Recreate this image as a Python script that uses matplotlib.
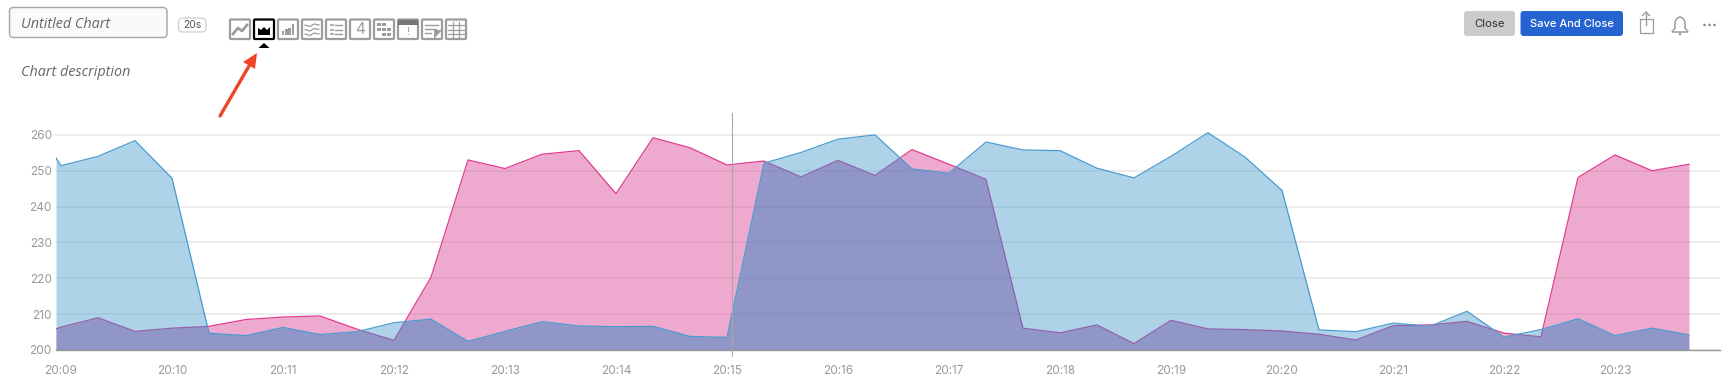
import numpy as np
import matplotlib
matplotlib.use("Agg")
import matplotlib.pyplot as plt
from matplotlib.patches import FancyBboxPatch, Polygon, Rectangle, Circle, PathPatch
from matplotlib.path import Path

W, H = 1728, 388

# sample times in seconds after 20:09:00 (first sample sits just before the label)
first_sample = -2.7
sample_step = 20
n_regular = 45

blue_values = [253.6, 251.4, 254.0, 258.4, 247.9, 204.7, 204.0, 206.3, 204.3, 205.1,
               207.6, 208.6, 202.4, 205.2, 207.9, 206.7, 206.5, 206.6, 203.8, 203.5,
               252.1, 255.1, 258.8, 260.0, 250.5, 249.3, 258.0, 255.8, 255.6, 250.7,
               248.0, 254.0, 260.6, 253.8, 244.5, 205.6, 205.1, 207.5, 206.6, 210.8,
               203.6, 205.7, 208.7, 204.0, 206.1, 204.2]
pink_values = [205.9, 206.4, 209.0, 205.2, 206.1, 206.6, 208.5, 209.2, 209.5, 205.8,
               202.7, 220.3, 253.0, 250.6, 254.6, 255.6, 243.6, 259.2, 256.4, 251.6,
               252.7, 248.3, 252.9, 248.7, 255.9, 251.8, 247.6, 206.1, 204.8, 207.0,
               201.8, 208.3, 205.9, 205.7, 205.3, 204.4, 202.8, 206.8, 207.0, 208.0,
               204.7, 203.7, 248.1, 254.4, 250.0, 251.8]

y_ticks = [200, 210, 220, 230, 240, 250, 260]
x_tick_labels = ["20:09", "20:10", "20:11", "20:12", "20:13", "20:14", "20:15", "20:16",
                 "20:17", "20:18", "20:19", "20:20", "20:21", "20:22", "20:23"]
cursor_time = 362.7

plt.rcParams["font.family"] = ["Inter", "DejaVu Sans"]
italic_font = ["Open Sans", "DejaVu Sans"]

times = np.concatenate([[first_sample], np.arange(n_regular) * sample_step])

fig = plt.figure(figsize=(W / 100, H / 100), dpi=100)

# chart area, pixel box 56..1720 by 113..350
ax = fig.add_axes([56 / W, 1 - 350 / H, (1720 - 56) / W, (350 - 113) / H])
ax.set_xlim((56 - 61) / 111 * 60, (1720 - 61) / 111 * 60)
ax.set_ylim(200, 266.1)
for s in ["top", "left", "right"]:
    ax.spines[s].set_visible(False)
ax.spines["bottom"].set_color("#999999")
ax.spines["bottom"].set_linewidth(1.0)
ax.set_yticks(y_ticks)
ax.set_xticks(np.arange(len(x_tick_labels)) * 60)
ax.set_xticklabels(x_tick_labels)
ax.tick_params(axis="both", length=0, labelsize=8.5, labelcolor="#999999")
ax.tick_params(axis="x", pad=10.5)
ax.tick_params(axis="y", pad=3)
ax.grid(axis="y", color="#e9e9e9", linewidth=1.2)
ax.set_axisbelow(True)

pink_fill = ax.fill_between(times, 200, pink_values, color="#d94494", alpha=0.45, linewidth=0, zorder=2)
ax.plot(times, pink_values, color="#e0398f", linewidth=0.9, zorder=2.1)
blue_fill = ax.fill_between(times, 200, blue_values, color="#4c9fd0", alpha=0.45, linewidth=0, zorder=2.2)

# overlap is darker than the two fills give on their own
overlap = ax.fill_between(times, 200, blue_values, color="#2641a7", alpha=0.15, linewidth=0, zorder=2.3)
pink_outline = Polygon(np.column_stack([np.r_[times[0], times, times[-1]],
                                        np.r_[200, pink_values, 200]]),
                       transform=ax.transData, fill=False, edgecolor="none")
ax.add_patch(pink_outline)
overlap.set_clip_path(pink_outline)

ax.plot(times, blue_values, color="#4a9bd0", linewidth=0.9, zorder=2.4)
ax.plot([cursor_time, cursor_time], [198.3, 266.1], color="#a8a8a8", linewidth=0.75, zorder=3, clip_on=False)

# app chrome around the chart, in pixels
ui = fig.add_axes([0, 0, 1, 1], zorder=5)
ui.set_xlim(0, W)
ui.set_ylim(H, 0)
ui.axis("off")
ui.patch.set_alpha(0)


def box(x0, y0, x1, y1, r=3, fc="none", ec="none", lw=1.0):
    ui.add_patch(FancyBboxPatch((x0 + r, y0 + r), x1 - x0 - 2 * r, y1 - y0 - 2 * r,
                                boxstyle=f"round,pad={r},rounding_size={r}",
                                fc=fc, ec=ec, lw=lw))


box(9.5, 7.5, 167, 37.5, r=4, fc="#fafafa", ec="#a5a5a5", lw=1.0)
ui.text(21, 25, "Untitled Chart", fontsize=10.4, style="italic", color="#666666", va="center", family=italic_font)
box(178.5, 18, 206, 32, r=4, fc="white", ec="#cfcfcf", lw=0.9)
ui.text(192, 25, "20s", fontsize=7.5, color="#555555", va="center", ha="center")
ui.text(21, 73, "Chart description", fontsize=10.4, style="italic", color="#666666", va="center", family=italic_font)

grey = "#9c9c9c"
icon_x = [230 + 24 * i for i in range(10)]
for i, x in enumerate(icon_x):
    active = i == 1
    box(x, 19.5, x + 20, 39, r=1, fc="white", ec="black" if active else grey, lw=1.6)
    if i == 0:
        ui.plot([x + 3, x + 8, x + 12, x + 17], [34, 28, 31, 25], color=grey, lw=2)
    elif i == 1:
        ui.add_patch(Polygon([(x + 4, 35), (x + 4, 28), (x + 7, 30), (x + 10, 27), (x + 13, 30),
                              (x + 16, 27), (x + 16, 35)], fc="black", ec="none"))
    elif i == 2:
        for j, h in enumerate([4, 6, 7, 11]):
            ui.add_patch(Rectangle((x + 4 + j * 3.2, 35 - h), 2.4, h, fc=grey, ec="none"))
    elif i == 3:
        for yy in (25, 29.5, 34):
            ui.plot([x + 3, x + 8, x + 12, x + 17], [yy, yy + 1.5, yy - 1, yy], color=grey, lw=0.9)
    elif i == 4:
        for yy in (25, 29.5, 34):
            ui.plot([x + 5, x + 6.5], [yy, yy], color=grey, lw=1.2)
            ui.plot([x + 8.5, x + 16], [yy, yy], color=grey, lw=1.0)
    elif i == 5:
        ui.text(x + 10, 29.5, "4", fontsize=11, color=grey, ha="center", va="center")
    elif i == 6:
        for cx, cy in [(3, 3), (8, 3), (3, 8), (8, 8), (13, 8), (8, 13), (13, 13)]:
            ui.add_patch(Rectangle((x + cx, 19.5 + cy), 3.6, 3.6, fc=grey, ec="none"))
    elif i == 7:
        ui.add_patch(Rectangle((x, 19.5), 20, 5, fc="#777777", ec="none"))
        ui.text(x + 10, 32, "!", fontsize=8, color=grey, ha="center", va="center")
    elif i == 8:
        for yy, xe in [(25, 16), (29, 14), (33, 9)]:
            ui.plot([x + 3, x + xe], [yy, yy], color=grey, lw=1.0)
        ui.add_patch(Polygon([(x + 20, 30), (x + 12, 39), (x + 12, 30)], fc=grey, ec="none"))
    elif i == 9:
        for d in (6.5, 13):
            ui.plot([x + d, x + d], [22, 37], color=grey, lw=0.9)
        for yy in (24.5, 29.5, 34):
            ui.plot([x + 2, x + 18], [yy, yy], color=grey, lw=0.9)

ui.add_patch(Polygon([(258.5, 48), (269.5, 48), (264, 43)], fc="black", ec="none"))

# red callout arrow
ui.plot([220, 249], [116, 66], color="#ee4528", lw=2.4, solid_capstyle="round")
ui.add_patch(Polygon([(257, 53), (243, 62), (255, 69)], fc="#ee4528", ec="none"))

box(1464, 11, 1515, 36, r=3, fc="#cbcbcb")
ui.text(1489.5, 24, "Close", fontsize=8.2, color="#333333", ha="center", va="center")
box(1520.5, 11, 1623, 36, r=3, fc="#2563d0")
ui.text(1571.5, 24, "Save And Close", fontsize=8.0, color="white", ha="center", va="center", fontweight="medium")

# share icon
ui.plot([1639.5, 1639.5, 1652.5, 1652.5, 1639.5], [19, 32.5, 32.5, 19, 19], color=grey, lw=0.9)
ui.plot([1646, 1646], [12, 25], color=grey, lw=1.0)
ui.plot([1642.5, 1646, 1649.5], [15.5, 12, 15.5], color=grey, lw=1.0)
ui.add_patch(Rectangle((1644, 18), 4, 1.5, fc="white", ec="none", zorder=0))

# bell icon
bell = Path([(1672, 32), (1675, 28), (1674, 18), (1680, 17), (1686, 18), (1685, 28), (1688, 32), (1672, 32)],
            [Path.MOVETO, Path.LINETO, Path.CURVE3, Path.CURVE3, Path.CURVE3, Path.CURVE3, Path.LINETO, Path.CLOSEPOLY])
ui.add_patch(PathPatch(bell, fc="none", ec=grey, lw=1.1))
ui.add_patch(Circle((1680, 34), 1.3, fc=grey, ec="none"))

for cx in (1704.5, 1709.5, 1714.5):
    ui.add_patch(Circle((cx, 25), 1.3, fc="#888888", ec="none"))

fig.savefig("out.png", dpi=100)
